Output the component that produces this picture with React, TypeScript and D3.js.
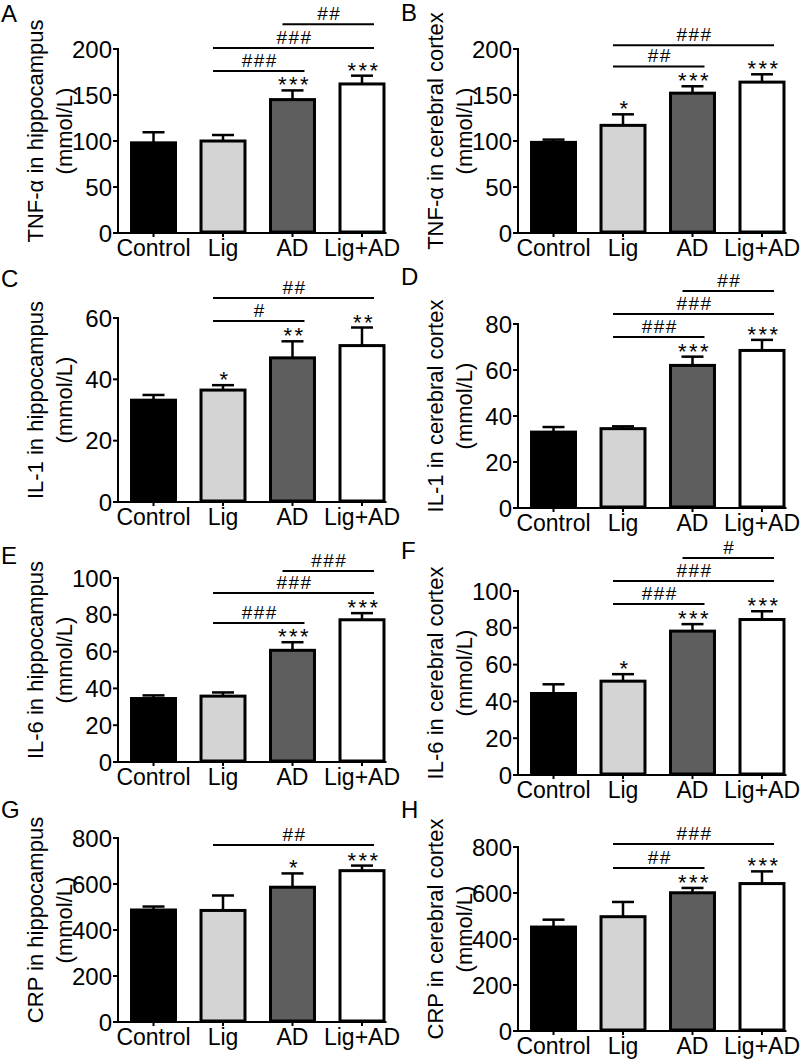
import React from "react";
import * as d3 from "d3";

const groups = ["Control", "Lig", "AD", "Lig+AD"];
const fills = ["#000000", "#d4d4d4", "#5e5e5e", "#ffffff"];

const panelLetters = ["A", "B", "C", "D", "E", "F", "G", "H"];
const yTitles = [
  "TNF-α in hippocampus",
  "TNF-α in cerebral cortex",
  "IL-1 in hippocampus",
  "IL-1 in cerebral cortex",
  "IL-6 in hippocampus",
  "IL-6 in cerebral cortex",
  "CRP in hippocampus",
  "CRP in cerebral cortex",
];
const yUnit = "(mmol/L)";
const yMax = [200, 200, 60, 80, 100, 100, 800, 800];
const yStep = [50, 50, 20, 20, 20, 20, 200, 200];

const meansA = [98, 100, 145, 162];
const semA = [11.5, 6.5, 10, 9];
const meansB = [98.5, 117, 152, 164];
const semB = [3, 12, 7.5, 8.5];
const meansC = [33.2, 36.5, 47, 51];
const semC = [1.7, 1.6, 5.4, 5.9];
const meansD = [33, 34.5, 62, 68.5];
const semD = [2.2, 1, 3.8, 4.6];
const meansE = [34.5, 35.8, 60.7, 77.3];
const semE = [1.7, 2, 4.4, 3.6];
const meansF = [44.3, 51, 78.2, 84.5];
const semF = [5, 3.8, 3.8, 4.5];
const meansG = [487, 485, 586, 658];
const semG = [15, 65, 60, 22];
const meansH = [452, 497, 601, 641];
const semH = [32, 64, 21, 53];

const starsA = ["", "", "***", "***"];
const starsB = ["", "*", "***", "***"];
const starsC = ["", "*", "**", "**"];
const starsD = ["", "", "***", "***"];
const starsE = ["", "", "***", "***"];
const starsF = ["", "*", "***", "***"];
const starsG = ["", "", "*", "***"];
const starsH = ["", "", "***", "***"];

type Sig = { from: number; to: number; label: string; y: number };
const sigA: Sig[] = [
  { from: 1, to: 2, label: "###", y: 176 },
  { from: 1, to: 3, label: "###", y: 201 },
  { from: 2, to: 3, label: "##", y: 227 },
];
const sigB: Sig[] = [
  { from: 1, to: 2, label: "##", y: 181 },
  { from: 1, to: 3, label: "###", y: 204 },
];
const sigC: Sig[] = [
  { from: 1, to: 2, label: "#", y: 59 },
  { from: 1, to: 3, label: "##", y: 66.5 },
];
const sigD: Sig[] = [
  { from: 1, to: 2, label: "###", y: 74.3 },
  { from: 1, to: 3, label: "###", y: 84.3 },
  { from: 2, to: 3, label: "##", y: 94.3 },
];
const sigE: Sig[] = [
  { from: 1, to: 2, label: "###", y: 75.5 },
  { from: 1, to: 3, label: "###", y: 91.8 },
  { from: 2, to: 3, label: "###", y: 103.8 },
];
const sigF: Sig[] = [
  { from: 1, to: 2, label: "###", y: 92.9 },
  { from: 1, to: 3, label: "###", y: 105.5 },
  { from: 2, to: 3, label: "#", y: 118 },
];
const sigG: Sig[] = [{ from: 1, to: 3, label: "##", y: 770 }];
const sigH: Sig[] = [
  { from: 1, to: 2, label: "##", y: 709 },
  { from: 1, to: 3, label: "###", y: 813 },
];

const allMeans = [meansA, meansB, meansC, meansD, meansE, meansF, meansG, meansH];
const allSem = [semA, semB, semC, semD, semE, semF, semG, semH];
const allStars = [starsA, starsB, starsC, starsD, starsE, starsF, starsG, starsH];
const allSig = [sigA, sigB, sigC, sigD, sigE, sigF, sigG, sigH];

// layout: axis left x, axis top y, letter baseline y
const axisX = [118, 518, 118, 518, 118, 518, 118, 518];
const axisTop = [49, 49, 318, 324, 578, 591, 838, 847];
const letterY = [22, 21, 287, 285, 564, 559, 818, 818];
const plotH = 184;
const FONT = "'Liberation Sans', Arial, Helvetica, sans-serif";

function Panel({ i }: { i: number }) {
  const x0 = axisX[i];
  const top = axisTop[i];
  const bottom = top + plotH;
  const x = d3
    .scaleBand<string>()
    .domain(groups)
    .range([x0, x0 + 279.5])
    .paddingInner(0.324)
    .paddingOuter(0.173);
  const y = d3.scaleLinear().domain([0, yMax[i]]).range([bottom, top]);
  const ticks = d3.range(0, yMax[i] + 1e-9, yStep[i]);
  const bw = x.bandwidth();
  const cx = (g: number) => (x(groups[g]) as number) + bw / 2;
  const means = allMeans[i];
  const sem = allSem[i];
  const stars = allStars[i];
  const xEnd = (x(groups[3]) as number) + bw + 1;
  const titleCy = (top + bottom) / 2 - 10;
  const panelLeft = i % 2 === 0 ? 0 : 400;
  return (
    <g fontFamily={FONT}>
      <text x={panelLeft + 1} y={letterY[i]} fontSize={24} fill="#000">
        {panelLetters[i]}
      </text>
      <text
        transform={`translate(${x0 - 75},${titleCy}) rotate(-90)`}
        textAnchor="middle"
        fontSize={22}
        fill="#000"
      >
        {yTitles[i]}
      </text>
      <text
        transform={`translate(${x0 - 46},${titleCy}) rotate(-90)`}
        textAnchor="middle"
        fontSize={22}
        fill="#000"
      >
        {yUnit}
      </text>
      {/* y axis */}
      <line x1={x0} x2={x0} y1={top - 1} y2={bottom} stroke="#000" strokeWidth={2} />
      {ticks.map((t) => (
        <g key={t}>
          <line x1={x0 - 5} x2={x0} y1={y(t)} y2={y(t)} stroke="#000" strokeWidth={2} />
          <text x={x0 - 6} y={y(t)} dy="0.36em" textAnchor="end" fontSize={24} fill="#000">
            {t}
          </text>
        </g>
      ))}
      {/* bars */}
      {groups.map((g, k) => (
        <g key={g}>
          <line
            x1={cx(k)}
            x2={cx(k)}
            y1={y(means[k])}
            y2={y(means[k] + sem[k])}
            stroke="#000"
            strokeWidth={2.5}
          />
          <line
            x1={cx(k) - 11}
            x2={cx(k) + 11}
            y1={y(means[k] + sem[k])}
            y2={y(means[k] + sem[k])}
            stroke="#000"
            strokeWidth={2.5}
          />
          <rect
            x={(x(g) as number) + 1.5}
            y={y(means[k])}
            width={bw - 3}
            height={bottom - y(means[k]) - 1}
            fill={fills[k]}
            stroke="#000"
            strokeWidth={3}
          />
          {stars[k] && (
            <text
              x={cx(k) + 2}
              y={y(means[k] + sem[k]) + 2}
              textAnchor="middle"
              fontSize={22}
              letterSpacing={2.5}
              fill="#000"
            >
              {stars[k]}
            </text>
          )}
        </g>
      ))}
      {/* x axis */}
      <line x1={x0 - 1} x2={xEnd} y1={bottom} y2={bottom} stroke="#000" strokeWidth={2} />
      {groups.map((g, k) => (
        <g key={"xl" + g}>
          <line x1={cx(k)} x2={cx(k)} y1={bottom} y2={bottom + 4} stroke="#000" strokeWidth={2} />
          <text x={cx(k)} y={bottom + 23} textAnchor="middle" fontSize={23} fill="#000">
            {g}
          </text>
        </g>
      ))}
      {/* significance */}
      {allSig[i].map((s, k) => {
        const xa = cx(s.from) - 10;
        const xb = cx(s.to) + 12;
        const yy = y(s.y);
        return (
          <g key={"s" + k}>
            <line x1={xa} x2={xb} y1={yy} y2={yy} stroke="#000" strokeWidth={2} />
            <text
              x={(xa + xb) / 2 + 1}
              y={yy - 4}
              textAnchor="middle"
              fontSize={19}
              letterSpacing={1.5}
              fill="#000"
            >
              {s.label}
            </text>
          </g>
        );
      })}
    </g>
  );
}

export default function App() {
  return (
    <svg
      width={800}
      height={1060}
      viewBox="0 0 800 1060"
      style={{ position: "absolute", left: 0, top: 0, background: "#fff" }}
    >
      <rect x={0} y={0} width={800} height={1060} fill="#fff" />
      {panelLetters.map((_, i) => (
        <Panel key={i} i={i} />
      ))}
    </svg>
  );
}
